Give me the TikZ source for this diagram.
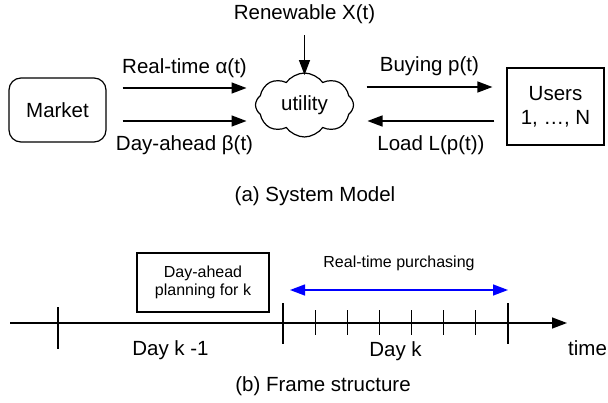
\documentclass[tikz,border=0pt]{standalone}
\usepackage{fontspec}
\setmainfont{Liberation Sans}
\usetikzlibrary{arrows.meta,shapes.symbols,calc,positioning}
\tikzset{
  flow/.style={line width=1.4pt, -{Triangle[length=15pt,width=11pt]}},
  rtflow/.style={line width=1.4pt, blue, {Triangle[length=15pt,width=11pt]}-{Triangle[length=15pt,width=11pt]}},
  txt/.style={font=\fontsize{20.5}{24}\selectfont, inner sep=0pt},
  smalltxt/.style={font=\fontsize{16}{18}\selectfont, inner sep=0pt},
  box/.style={draw, line width=1.2pt, align=center}
}

\begin{document}
\begin{tikzpicture}[x=1pt,y=-1pt]
    \useasboundingbox (0,0) rectangle (608,402);

    % System model: market, utility, users
    \node[txt, box, rounded corners=12pt, minimum width=97pt, minimum height=64pt] (market) at (57.5,110) {Market};
    \node[txt, cloud, draw, line width=1.2pt, cloud puffs=8, cloud puff arc=110, aspect=1.6, minimum width=98pt, minimum height=64pt] (util) at (304.5,105) {utility};
    \node[txt, box, minimum width=97pt, minimum height=77pt] (users) at (555.5,106.5) {Users\\1, …, N};
    \node[txt] (renew) at (304.5,14) {Renewable X(t)};

    % Flows between them
    \draw[flow] ($(renew.center)+(0,21)$) -- ($(util.center)+(0,-30)$);
    \draw[flow] ($(market.east)+(16,-22)$) -- node[txt, above=10pt] {Real-time α(t)} ($(util.center)+(-58,-17)$);
    \draw[flow] ($(market.east)+(16,11)$) -- node[txt, below=14pt] {Day-ahead β(t)} ($(util.center)+(-58,16)$);
    \draw[flow] ($(util.center)+(62,-18)$) -- node[txt, above=11pt] {Buying p(t)} ($(users.west)+(-14,-19.5)$);
    \draw[flow] ($(users.west)+(-12,14.5)$) -- node[txt, below=14pt] {Load L(p(t))} ($(util.center)+(63,16)$);

    \node[txt] (capa) at (315,196) {(a) System Model};

    % Frame structure: time axis
    \coordinate (t0) at (10,323);
    \coordinate (d0) at (58,323);
    \coordinate (d1) at (283,323);
    \coordinate (d2) at (508,323);
    \coordinate (tend) at (567,323);
    \draw[flow] (t0) -- (tend);
    \node[txt, anchor=west] (time) at ($(tend)+(1,25)$) {time};

    % Day boundaries and hourly slots
    \draw[line width=1.2pt] ($(d0)+(0,-16)$) -- ($(d0)+(0,26)$);
    \foreach \d in {d1,d2} {
        \draw[line width=1.2pt] ($(\d)+(0,-20)$) -- ($(\d)+(0,21)$);
    }
    \foreach \i in {1,...,6} {
        \draw[line width=1.2pt] ($(d1)!\i/7!(d2)+(0,-13)$) -- ($(d1)!\i/7!(d2)+(0,12)$);
    }
    \node[txt] (dayprev) at ($(d0)!0.5!(d1)+(0,27)$) {Day k -1};
    \node[txt] (day) at ($(d1)!0.5!(d2)+(0,28)$) {Day k};

    % Day-ahead planning and real-time window
    \node[smalltxt, box, minimum width=132pt, minimum height=59pt] (plan) at (203,282.5) {Day-ahead\\planning for k};
    \draw[rtflow] ($(d1)+(7,-33)$) -- node[smalltxt, black, above=18pt] (rtp) {Real-time purchasing} ($(d2)+(0,-33)$);

    \node[txt] (capb) at (323,386) {(b) Frame structure};
\end{tikzpicture}
\end{document}
